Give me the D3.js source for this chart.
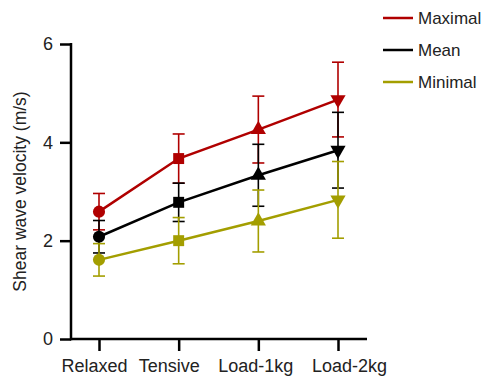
<!DOCTYPE html>
<html>
<head>
<meta charset="utf-8">
<script src="https://cdn.jsdelivr.net/npm/d3@7"></script>
<style>
  body { margin: 0; background: #fff; }
  text { font-family: "Liberation Sans", Arial, sans-serif; fill: #222; }
</style>
</head>
<body>
<div id="figure"></div>
<script>
'use strict';

const conditions = ['Relaxed', 'Tensive', 'Load-1kg', 'Load-2kg'];
const seriesNames = ['Maximal', 'Mean', 'Minimal'];
const maximalMean = [2.59, 3.67, 4.26, 4.87];
const maximalSD = [0.37, 0.50, 0.68, 0.76];
const meanMean = [2.08, 2.78, 3.33, 3.84];
const meanSD = [0.33, 0.39, 0.63, 0.77];
const minimalMean = [1.61, 2.00, 2.40, 2.83];
const minimalSD = [0.33, 0.47, 0.63, 0.78];
const yTicks = [0, 2, 4, 6];

function drawFigure() {
  const width = 488;
  const height = 378;
  const font = '"Liberation Sans", Arial, sans-serif';

  const colors = ['#b00000', '#000000', '#a39e00'];
  const means = [maximalMean, meanMean, minimalMean];
  const sds = [maximalSD, meanSD, minimalSD];
  const series = seriesNames.map((name, k) => ({
    name: name, color: colors[k], mean: means[k], sd: sds[k],
  }));

  const x = d3.scalePoint()
    .domain(conditions)
    .range([99, 338]);

  const y = d3.scaleLinear()
    .domain([0, 6])
    .range([339, 44]);

  const svg = d3.select("div#figure")
    .append("svg")
    .attr("width", width)
    .attr("height", height);

  // axes
  const yAxis = svg.append("g")
    .attr("transform", "translate(71,0)")
    .call(d3.axisLeft(y).tickValues(yTicks).tickFormat(d3.format("d")).tickSize(11).tickPadding(7));
  const xAxis = svg.append("g")
    .attr("transform", "translate(0,339)")
    .call(d3.axisBottom(x).tickSize(12).tickPadding(8));

  for (const ax of [yAxis, xAxis]) {
    ax.select(".domain").remove();
    ax.selectAll("line").attr("stroke", "#000").attr("stroke-width", 2.5);
    ax.selectAll("text")
      .style("font-family", font)
      .style("font-size", "18px")
      .attr("fill", "#222");
  }
  // the labels in the original sit a little off their ticks
  const labelShift = [-5, -10, -3, 11];
  xAxis.selectAll(".tick text").attr("dx", (d, i) => labelShift[i]);

  svg.append("line")
    .attr("x1", 71).attr("x2", 71)
    .attr("y1", y(6) - 1).attr("y2", y(0) + 1.25)
    .attr("stroke", "#000").attr("stroke-width", 2.5);
  svg.append("line")
    .attr("x1", 70).attr("x2", 367)
    .attr("y1", y(0)).attr("y2", y(0))
    .attr("stroke", "#000").attr("stroke-width", 2.5);

  svg.append("text")
    .attr("transform", `translate(26,${(y(0) + y(6)) / 2}) rotate(-90)`)
    .attr("text-anchor", "middle")
    .style("font-size", "17.5px")
    .text("Shear wave velocity (m/s)");

  const symbols = [d3.symbolCircle, d3.symbolSquare, d3.symbolTriangle, d3.symbolTriangle];
  const line = d3.line()
    .x((d, i) => x(conditions[i]))
    .y(d => y(d));

  for (const s of series) {
    const g = svg.append("g");
    const data = conditions.map((c, i) => ({ c: c, m: s.mean[i], sd: s.sd[i], i: i }));

    g.selectAll(null)
      .data(data)
      .join("line")
      .attr("x1", d => x(d.c)).attr("x2", d => x(d.c))
      .attr("y1", d => y(d.m + d.sd)).attr("y2", d => y(d.m - d.sd))
      .attr("stroke", s.color).attr("stroke-width", 1.6);
    for (const sign of [1, -1]) {
      g.selectAll(null)
        .data(data)
        .join("line")
        .attr("x1", d => x(d.c) - 6).attr("x2", d => x(d.c) + 6)
        .attr("y1", d => y(d.m + sign * d.sd)).attr("y2", d => y(d.m + sign * d.sd))
        .attr("stroke", s.color).attr("stroke-width", 1.6);
    }

    g.append("path")
      .datum(s.mean)
      .attr("d", line)
      .attr("fill", "none")
      .attr("stroke", s.color)
      .attr("stroke-width", 2.5);

    g.selectAll(null)
      .data(data)
      .join("path")
      .attr("d", d => d3.symbol().type(symbols[d.i]).size(d.i === 1 ? 120 : d.i === 0 ? 115 : 100)())
      .attr("transform", d => `translate(${x(d.c)},${y(d.m)})${d.i === 3 ? ' rotate(180)' : ''}`)
      .attr("fill", s.color);
  }

  // legend
  series.forEach((s, index) => {
    const ly = 18 + 32 * index;
    svg.append("line")
      .attr("x1", 383).attr("x2", 413)
      .attr("y1", ly).attr("y2", ly)
      .attr("stroke", s.color)
      .attr("stroke-width", 2.5);
    svg.append("text")
      .attr("x", 418)
      .attr("y", ly + 6)
      .style("font-size", "17px")
      .text(s.name);
  });
}

drawFigure();
</script>
</body>
</html>
